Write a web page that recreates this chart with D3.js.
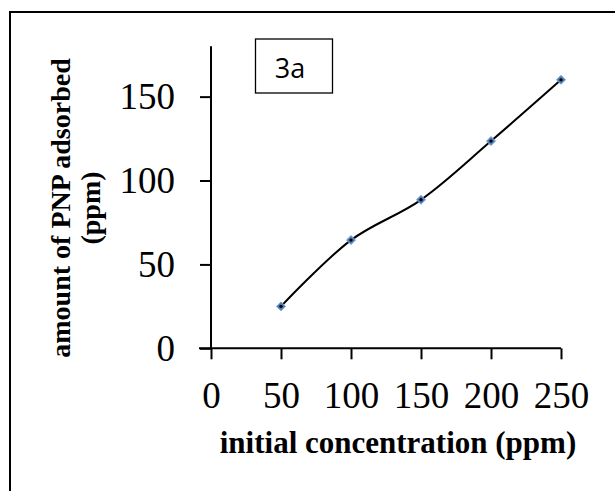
<!DOCTYPE html>
<html>
<head>
<meta charset="utf-8">
<script src="https://cdn.jsdelivr.net/npm/d3@7"></script>
<style>
  body { margin: 0; background: #fff; }
  svg { display: block; }
</style>
</head>
<body>
<svg id="chart"></svg>
<script>
var concentration = [50, 100, 150, 200, 250],
    adsorbed = [25, 64.5, 88.5, 123.5, 160],
    xTicks = [0, 50, 100, 150, 200, 250],
    yTicks = [0, 50, 100, 150],
    xTitle = 'initial concentration (ppm)',
    yTitleLines = ['amount of PNP adsorbed', '(ppm)'],
    panelLabel = '3a';

var width = 615,
    height = 491,
    serif = '"Liberation Serif", "DejaVu Serif", serif';

var svg = d3.select('svg#chart')
    .attr('width', width)
    .attr('height', height);

// outer frame (right and bottom edges fall outside the picture)
svg.append('rect')
    .attr('x', 10)
    .attr('y', 12)
    .attr('width', 620)
    .attr('height', 500)
    .attr('fill', 'none')
    .attr('stroke', '#000')
    .attr('stroke-width', 2);

var x = d3.scaleLinear().domain([0, 250]).range([211, 561]);
var y = d3.scaleLinear().domain([0, 180]).range([348.3, 46.3]);

var xAxis = svg.append('g')
    .attr('transform', 'translate(0,' + y(0) + ')')
    .call(d3.axisBottom(x).tickValues(xTicks).tickSize(11).tickPadding(22).tickSizeOuter(0));
xAxis.select('.domain').attr('d', 'M199,0H' + x(250));

var yAxis = svg.append('g')
    .attr('transform', 'translate(' + x(0) + ',0)')
    .call(d3.axisLeft(y).tickValues(yTicks).tickSize(11).tickPadding(25).tickSizeOuter(0));
yAxis.select('.domain').attr('d', 'M0,' + y(0) + 'V' + y(180));

svg.selectAll('.tick line, .domain')
    .attr('stroke', '#000')
    .attr('stroke-width', 2);
svg.selectAll('.tick text')
    .attr('font-family', serif)
    .attr('font-size', 37)
    .attr('fill', '#000');

// smoothed series line
var line = d3.line()
    .x(function(d, i) { return x(concentration[i]); })
    .y(function(d) { return y(d); })
    .curve(d3.curveCatmullRom.alpha(0.5));

svg.append('path')
    .datum(adsorbed)
    .attr('d', line)
    .attr('fill', 'none')
    .attr('stroke', '#000')
    .attr('stroke-width', 2);

var markers = svg.selectAll('g.marker')
    .data(adsorbed)
    .enter().append('g')
    .attr('class', 'marker')
    .attr('transform', function(d, i) { return 'translate(' + x(concentration[i]) + ',' + y(d) + ')'; });
markers.append('path')
    .attr('d', 'M0,-4.5L4.5,0L0,4.5L-4.5,0Z')
    .attr('fill', '#4a7ebb')
    .attr('stroke', '#7ea6d6')
    .attr('stroke-width', 1);
markers.append('circle')
    .attr('r', 1.7)
    .attr('fill', '#000');

// axis titles
svg.append('text')
    .attr('x', 398)
    .attr('y', 453)
    .attr('text-anchor', 'middle')
    .attr('font-family', serif)
    .attr('font-weight', 'bold')
    .attr('font-size', 31)
    .text(xTitle);

var yTitle = svg.append('text')
    .attr('transform', 'translate(70,208) rotate(-90)')
    .attr('text-anchor', 'middle')
    .attr('font-family', serif)
    .attr('font-weight', 'bold')
    .attr('font-size', 28);
yTitle.selectAll('tspan')
    .data(yTitleLines)
    .enter().append('tspan')
    .attr('x', 0)
    .attr('dy', function(d, i) { return i === 0 ? 0 : 30; })
    .text(function(d) { return d; });

// panel label box
svg.append('rect')
    .attr('x', 255.5)
    .attr('y', 39)
    .attr('width', 77)
    .attr('height', 54)
    .attr('fill', '#fff')
    .attr('stroke', '#000')
    .attr('stroke-width', 1.3);
svg.append('text')
    .attr('x', 290)
    .attr('y', 78)
    .attr('text-anchor', 'middle')
    .attr('font-family', '"Open Sans", "Liberation Sans", sans-serif')
    .attr('font-size', 27)
    .text(panelLabel);
</script>
</body>
</html>
